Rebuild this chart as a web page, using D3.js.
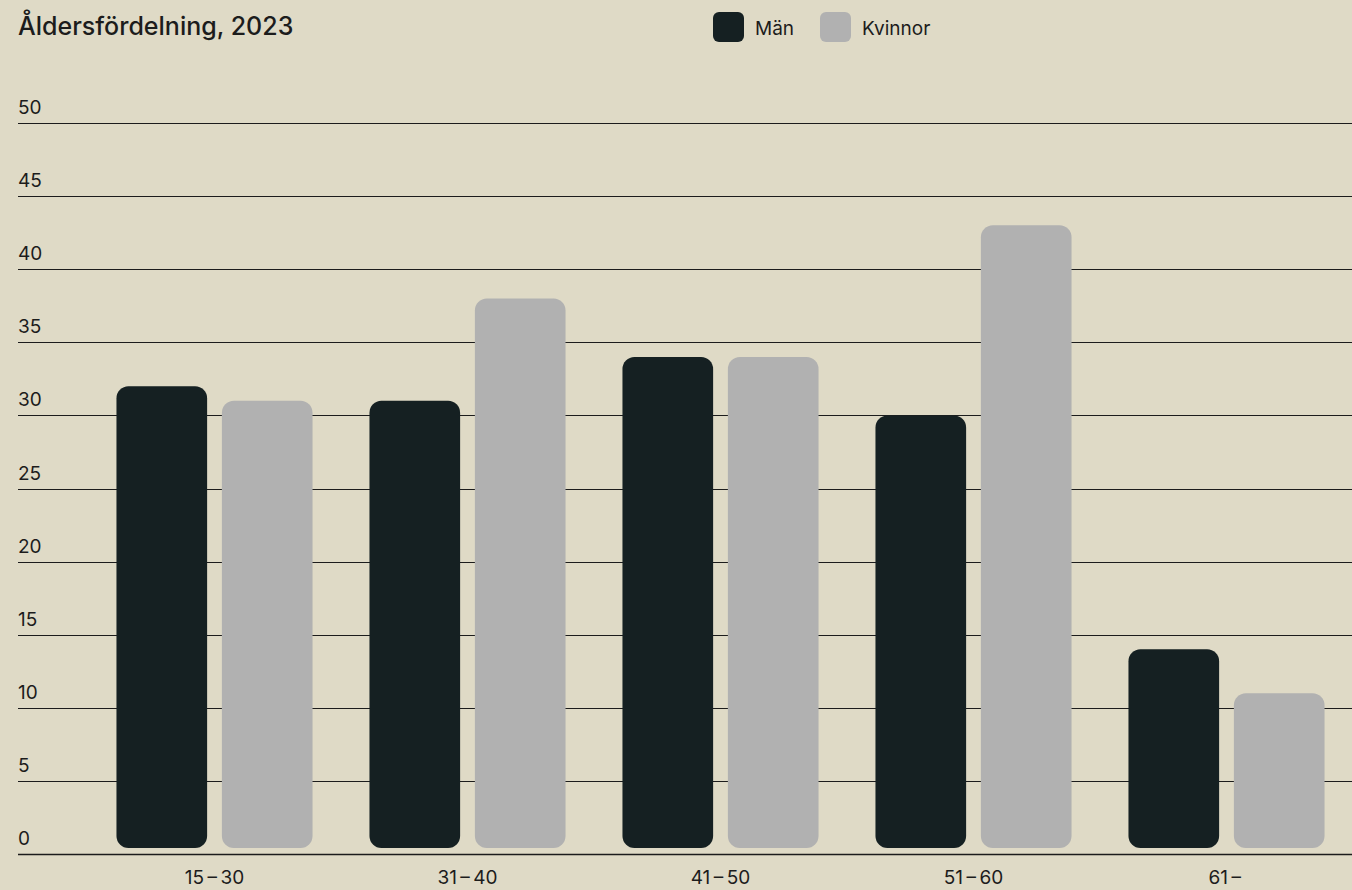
<!DOCTYPE html>
<html lang="sv">
<head>
<meta charset="utf-8">
<script src="https://cdn.jsdelivr.net/npm/d3@7"></script>
<style>
  html, body { margin: 0; padding: 0; background: #dfdac6; }
  svg { display: block; font-family: Inter, "Noto Sans", sans-serif; }
</style>
</head>
<body>
<svg id="chart" width="1352" height="890"></svg>
<script>
// Age groups and share per gender (percent)
const categories = ["15–30", "31–40", "41–50", "51–60", "61–"];
const series = ["Män", "Kvinnor"];
const manValues = [32, 31, 34, 30, 14];
const kvinnorValues = [31, 38, 34, 43, 11];
const yTicks = [0, 5, 10, 15, 20, 25, 30, 35, 40, 45, 50];
const title = "Åldersfördelning, 2023";

const colors = { "Män": "#152022", "Kvinnor": "#b1b1b1" };
const ink = "#1c1c1c";

const W = 1352, H = 890;
const svg = d3.select("#chart");

const y = d3.scaleLinear().domain([0, 50]).range([854, 123]);
const x = d3.scaleBand().domain(categories).range([88, 1353])
  .paddingInner(0.225).paddingOuter(0.1125);
const xs = d3.scaleBand().domain(series).range([0, x.bandwidth()]).paddingInner(0.14);

const data = categories.map((c, i) => ({
  cat: c,
  values: [
    { key: "Män", value: manValues[i] },
    { key: "Kvinnor", value: kvinnorValues[i] }
  ]
}));

// Title
svg.append("text")
  .attr("x", 18).attr("y", 35)
  .attr("font-size", 25).attr("font-weight", 500)
  .attr("fill", ink)
  .text(title);

// Legend
const legend = svg.append("g").attr("transform", "translate(713,12)");
const lx = [0, 107];
series.forEach((s, i) => {
  const g = legend.append("g").attr("transform", `translate(${lx[i]},0)`);
  g.append("rect").attr("width", 31).attr("height", 30).attr("rx", 6)
    .attr("fill", colors[s]);
  g.append("text").attr("x", 42).attr("y", 23)
    .attr("font-size", 19).attr("fill", ink).text(s);
});

// Y grid and labels
const grid = svg.append("g");
grid.selectAll("line").data(yTicks).join("line")
  .attr("x1", 18).attr("x2", W)
  .attr("y1", d => Math.round(y(d)) + 0.5).attr("y2", d => Math.round(y(d)) + 0.5)
  .attr("stroke", ink).attr("stroke-width", d => d === 0 ? 1.5 : 1);
grid.selectAll("text").data(yTicks).join("text")
  .attr("x", 18).attr("y", d => y(d) - 9)
  .attr("font-size", 19).attr("fill", ink)
  .text(d => d);

// Bars: rounded on all corners, lifted slightly off the baseline
const barBottom = y(0) - 6;
const groups = svg.append("g").selectAll("g").data(data).join("g")
  .attr("transform", d => `translate(${x(d.cat)},0)`);
groups.selectAll("rect").data(d => d.values).join("rect")
  .attr("x", d => xs(d.key))
  .attr("y", d => y(d.value))
  .attr("width", xs.bandwidth())
  .attr("height", d => barBottom - y(d.value))
  .attr("rx", 12)
  .attr("fill", d => colors[d.key]);

// X labels, with thin spaces around the dash
svg.append("g").selectAll("text").data(categories).join("text")
  .attr("x", d => x(d) + x.bandwidth() / 2)
  .attr("y", 884)
  .attr("text-anchor", "middle")
  .attr("font-size", 19).attr("fill", ink)
  .text(d => d.replace("–", "\u2009–\u2009"));
</script>
</body>
</html>
